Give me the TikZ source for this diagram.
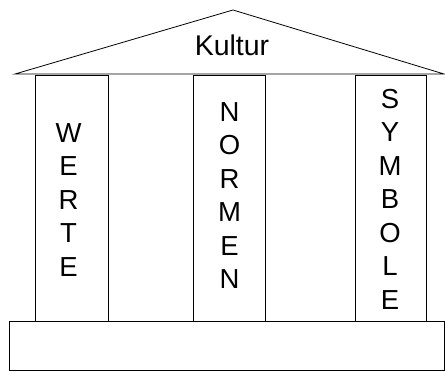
\documentclass[tikz,border=0pt]{standalone}
\usepackage{fontspec}
\setmainfont{Liberation Sans}
\begin{document}
\begin{tikzpicture}[x=1pt,y=-1pt,
  edge/.style={draw=black,line width=0.8pt},
  colbox/.style={edge,rectangle,inner sep=0pt,minimum width=#1,minimum height=246pt},
  lett/.style={align=center,inner sep=0pt,font=\fontsize{27.5}{33.5}\selectfont}]
\useasboundingbox (0,0) rectangle (445,371);
% roof
\coordinate (rl) at (15,74);
\coordinate (rt) at (233,10);
\coordinate (rr) at (444,74);
\draw[edge,line join=miter] (rl) -- (rt) -- (rr) -- cycle;
\node[font=\fontsize{28.5}{30}\selectfont,anchor=base] (kultur) at (232,55.5) {Kultur};
% columns
\node[colbox=73pt] (c1) at (71.5,198) {};
\node[colbox=72pt] (c2) at (229,198) {};
\node[colbox=71pt] (c3) at (390.5,198) {};
% base
\node[edge,rectangle,inner sep=0pt,minimum width=435pt,minimum height=49pt] (base) at (226.5,345.5) {};
% texts
\node[lett] (werte) at (68.5,200) {W\\E\\R\\T\\E};
\node[lett] (normen) at (229.5,195.5) {N\\O\\R\\M\\E\\N};
\node[lett] (symbole) at (390,199) {S\\Y\\M\\B\\O\\L\\E};
\end{tikzpicture}
\end{document}
